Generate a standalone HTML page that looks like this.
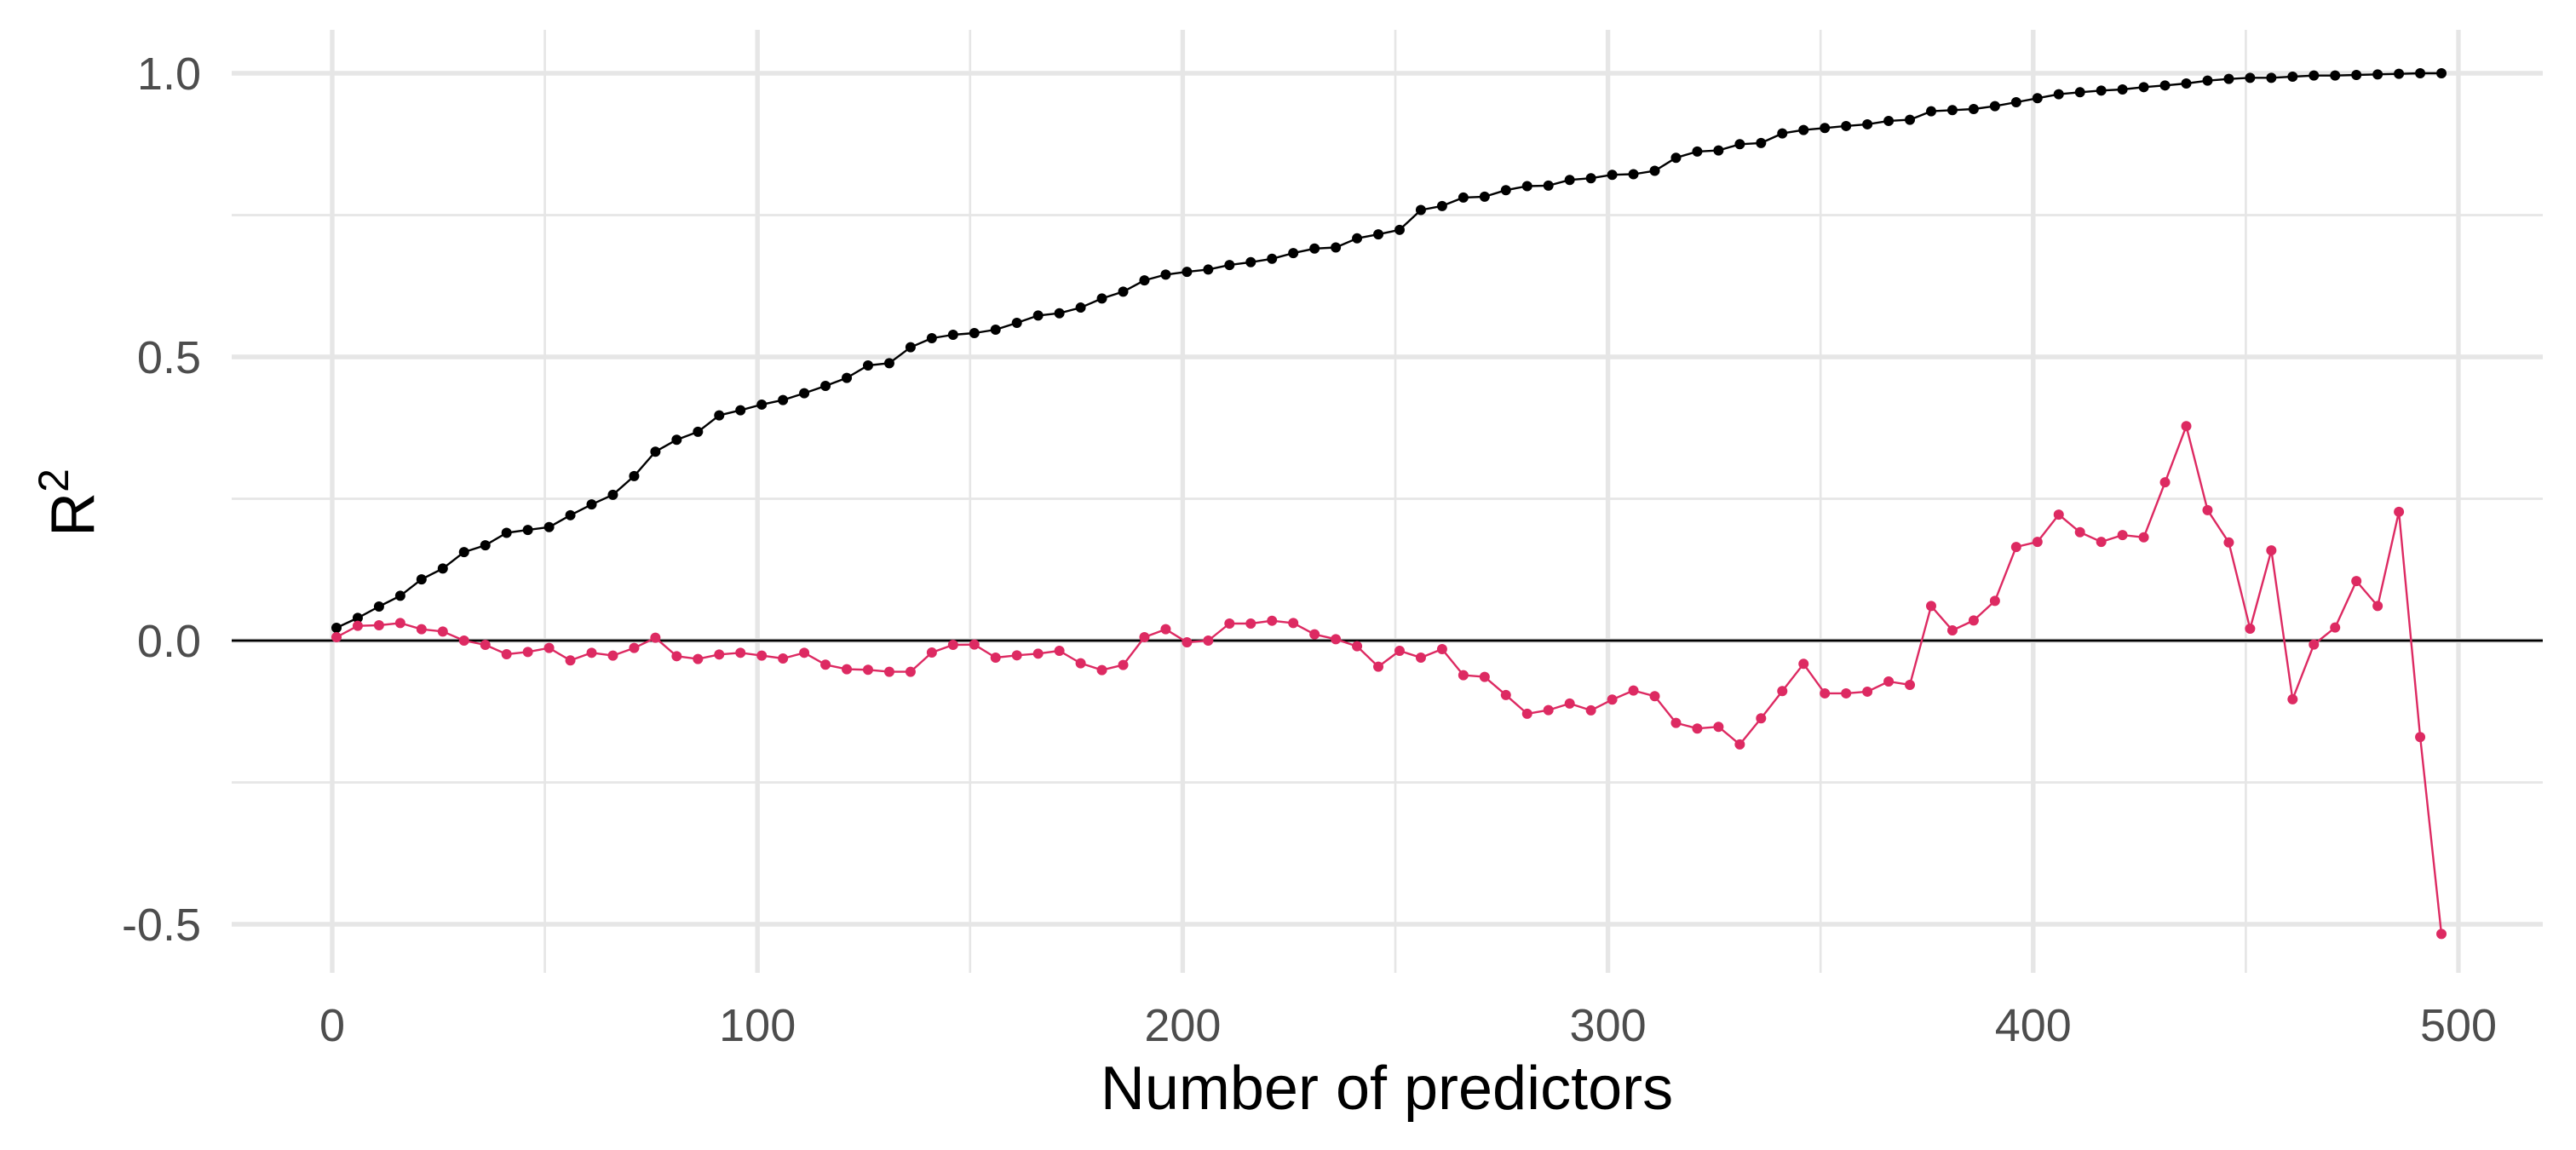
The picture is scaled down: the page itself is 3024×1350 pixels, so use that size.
<!DOCTYPE html>
<html><head><meta charset="utf-8"><style>
html,body{margin:0;padding:0;background:#fff;}
svg{display:block;}
text{font-family:"Liberation Sans",Arial,sans-serif;}
</style></head><body>
<svg id="chart" width="3024" height="1350" viewBox="0 0 3024 1350" xmlns="http://www.w3.org/2000/svg">
<rect width="3024" height="1350" fill="#fff"/>
<g id="grid"></g>
<g id="axes"></g>
<g id="series"></g>
<text x="1628" y="1302" font-size="72" text-anchor="middle" fill="#000">Number of predictors</text>
<text transform="translate(110,590) rotate(-90)" font-size="72" text-anchor="middle" fill="#000">R<tspan font-size="50" dy="-30">2</tspan></text>
</svg>
<script>
const predictors = [];
for (let i = 0; i < 100; i++) predictors.push(1 + 5 * i);
const trainR2 = [0.0225,0.040,0.060,0.079,0.108,0.127,0.156,0.168,0.190,0.195,0.200,0.221,0.240,0.257,0.290,0.333,0.354,0.368,0.397,0.406,0.416,0.424,0.436,0.449,0.463,0.485,
0.489,0.517,0.533,0.539,0.542,0.548,0.560,0.573,0.577,0.587,0.603,0.615,0.635,0.645,0.650,0.654,0.662,0.667,0.673,0.683,0.691,0.693,0.709,0.716,0.724,
0.759,0.766,0.781,0.7825,0.794,0.801,0.802,0.812,0.815,0.821,0.822,0.828,0.851,0.862,0.864,0.875,0.877,0.894,0.900,0.9035,0.907,0.910,0.916,0.918,0.933,
0.935,0.937,0.942,0.949,0.956,0.963,0.9665,0.9695,0.9715,0.9755,0.9785,0.982,0.987,0.990,0.992,0.992,0.994,0.996,0.996,0.997,0.998,0.999,1.0,1.0];
const testR2 = [0.006,0.026,0.027,0.031,0.020,0.016,0.0,-0.0075,-0.024,-0.020,-0.013,-0.035,-0.0215,-0.0265,-0.013,0.005,-0.0275,-0.0325,-0.0245,-0.0215,-0.0265,-0.0315,-0.0215,-0.0425,-0.0505,-0.0515,
-0.055,-0.055,-0.021,-0.0075,-0.007,-0.030,-0.026,-0.023,-0.018,-0.040,-0.052,-0.043,0.006,0.020,-0.003,0.0,0.030,0.030,0.035,0.031,0.011,0.0025,-0.010,-0.046,-0.018,
-0.030,-0.015,-0.061,-0.064,-0.096,-0.129,-0.1225,-0.111,-0.123,-0.104,-0.088,-0.098,-0.145,-0.155,-0.152,-0.183,-0.137,-0.089,-0.041,-0.093,-0.093,-0.090,-0.072,-0.078,0.061,
0.018,0.0355,0.070,0.165,0.174,0.222,0.191,0.174,0.186,0.182,0.279,0.378,0.230,0.173,0.021,0.159,-0.1035,-0.007,0.023,0.105,0.061,0.227,-0.170,-0.517];
const xTicks = [0,100,200,300,400,500];
const xMinor = [50,150,250,350,450];
const yTicks = [-0.5,0.0,0.5,1.0];
const yTickLabels = ["-0.5","0.0","0.5","1.0"];
const yMinor = [-0.25,0.25,0.75];

const NS = "http://www.w3.org/2000/svg";
const L = 272, R = 2985, T = 35, B = 1142;
const sx = v => 390 + v * 4.992;
const sy = v => 752 - v * 666;
function mk(tag, attrs, parent) {
  const e = document.createElementNS(NS, tag);
  for (const k in attrs) e.setAttribute(k, attrs[k]);
  parent.appendChild(e);
  return e;
}
const grid = document.getElementById('grid');
const axes = document.getElementById('axes');
const series = document.getElementById('series');
yMinor.forEach(v => {
  const e = mk('line', {x1:L, x2:R, y1:sy(v), y2:sy(v), stroke:'#e6e6e6', 'stroke-width':2.7}, grid);
  
  
});
xMinor.forEach(v => {
  const e = mk('line', {x1:sx(v), x2:sx(v), y1:T, y2:B, stroke:'#e6e6e6', 'stroke-width':2.7}, grid);
  
  
});
yTicks.forEach((v, i) => {
  const e = mk('line', {x1:L, x2:R, y1:sy(v), y2:sy(v), stroke:'#e6e6e6', 'stroke-width':5.4}, grid);
  
  
  const t = mk('text', {x:236, y:sy(v) + 19, 'font-size':54, 'text-anchor':'end', fill:'#4d4d4d'}, axes);
  t.textContent = yTickLabels[i];
  
  
});
xTicks.forEach(v => {
  const e = mk('line', {x1:sx(v), x2:sx(v), y1:T, y2:B, stroke:'#e6e6e6', 'stroke-width':5.4}, grid);
  
  
  const t = mk('text', {x:sx(v), y:1222, 'font-size':54, 'text-anchor':'middle', fill:'#4d4d4d'}, axes);
  t.textContent = String(v);
  
  
});
const zl = mk('line', {x1:L, x2:R, y1:sy(0), y2:sy(0), stroke:'#000', 'stroke-width':2.7}, axes);



function drawSeries(vals, color, name) {
  const g = mk('g', {}, series);
  
  
  const pts = vals.map((v, i) => sx(predictors[i]).toFixed(1) + ',' + sy(v).toFixed(1)).join(' ');
  const pl = mk('polyline', {points:pts, fill:'none', stroke:color, 'stroke-width':2.4, 'stroke-linejoin':'round'}, g);
  
  
  vals.forEach((v, i) => {
    const c = mk('circle', {cx:sx(predictors[i]), cy:sy(v), r:6, fill:color}, g);
    
    
  });
}
drawSeries(trainR2, '#000000', 'train-r2');
drawSeries(testR2, '#dd2a62', 'test-r2');
</script>
</body></html>
